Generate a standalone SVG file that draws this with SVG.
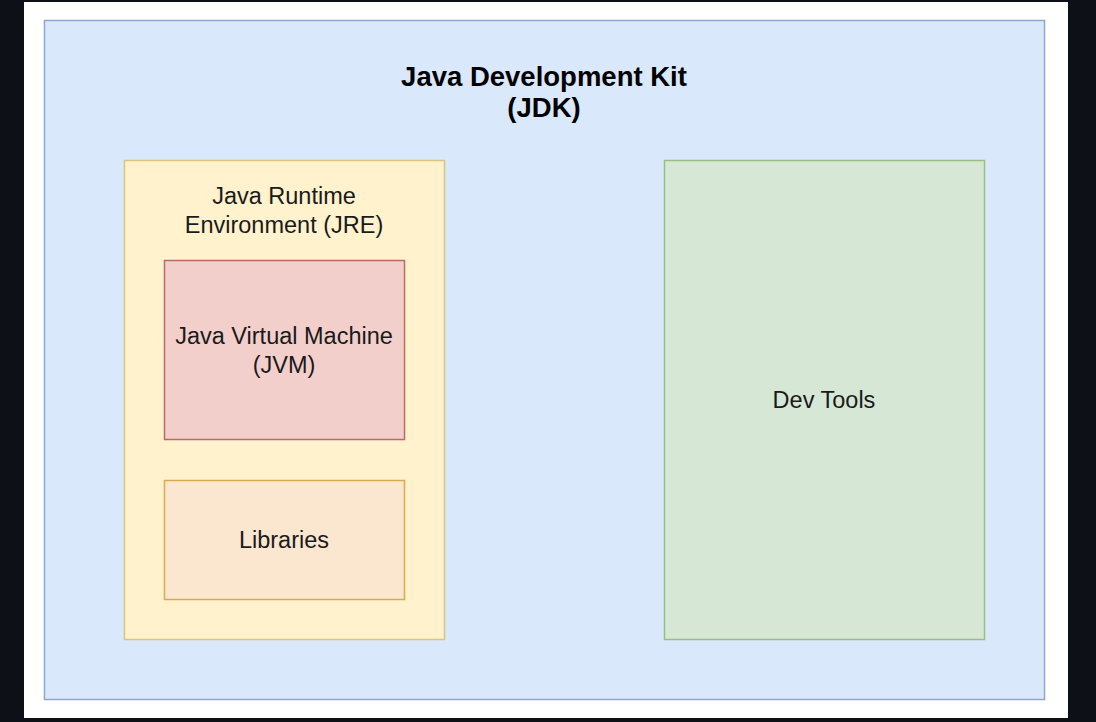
<svg xmlns="http://www.w3.org/2000/svg" width="1096" height="722" viewBox="0 0 1096 722">
<style>
.box{stroke-width:1.5}
.t{font-family:"Liberation Sans",Arial,Helvetica,sans-serif;font-size:23.5px;fill:#1a1a1a;text-anchor:middle}
.h{font-family:"Liberation Sans",Arial,Helvetica,sans-serif;font-size:27.5px;font-weight:bold;fill:#000;text-anchor:middle}
</style>
<rect x="0" y="0" width="1096" height="722" fill="#0d1117"/>
<rect x="24" y="2" width="1044" height="716" fill="#ffffff"/>
<g id="jdk">
<rect class="box" x="44.5" y="20.5" width="1000" height="679" fill="#dae8fc" stroke="#8fa6d1"/>
<text class="h" x="544" y="86">Java Development Kit</text>
<text class="h" x="544" y="117">(JDK)</text>
</g>
<g id="jre">
<rect class="box" x="124.5" y="160.5" width="320" height="479" fill="#fff2cc" stroke="#dcc47c"/>
<text class="t" x="284" y="204">Java Runtime</text>
<text class="t" x="284" y="233">Environment (JRE)</text>
</g>
<g id="jvm">
<rect class="box" x="164.5" y="260.5" width="240" height="179" fill="#f3cfcc" stroke="#b86b67"/>
<text class="t" x="284" y="344">Java Virtual Machine</text>
<text class="t" x="284" y="373">(JVM)</text>
</g>
<g id="libraries">
<rect class="box" x="164.5" y="480.5" width="240" height="119" fill="#fbe6d0" stroke="#d9ab4e"/>
<text class="t" x="284" y="548">Libraries</text>
</g>
<g id="devtools">
<rect class="box" x="664.5" y="160.5" width="320" height="479" fill="#d7e7d6" stroke="#98bf80"/>
<text class="t" x="824" y="408">Dev Tools</text>
</g>
<g id="connectors"></g>
</svg>
